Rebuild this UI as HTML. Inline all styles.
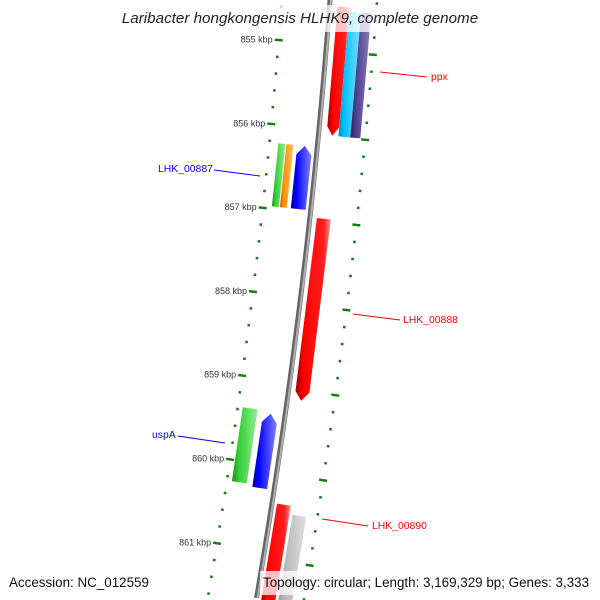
<!DOCTYPE html>
<html><head><meta charset="utf-8">
<style>
html,body{margin:0;padding:0;background:#fff;width:600px;height:600px;overflow:hidden;}
svg{display:block;font-family:"Liberation Sans","DejaVu Sans",sans-serif;overflow:hidden;}
</style></head>
<body>
<svg id="map" width="600" height="600" viewBox="0 0 600 600" xmlns="http://www.w3.org/2000/svg">
<defs>
<clipPath id="frame"><rect x="0" y="0" width="600" height="600"/></clipPath>
<linearGradient id="gRed" x1="0" x2="1" y1="0" y2="0"><stop offset="0" stop-color="#a00000"/><stop offset="0.25" stop-color="#ff0000"/><stop offset="0.8" stop-color="#ff2020"/><stop offset="1" stop-color="#ff9090"/></linearGradient>
<linearGradient id="gCyan" x1="0" x2="1"><stop offset="0" stop-color="#0090c0"/><stop offset="0.25" stop-color="#00bfff"/><stop offset="1" stop-color="#80e0ff"/></linearGradient>
<linearGradient id="gSlate" x1="0" x2="1"><stop offset="0" stop-color="#2a2060"/><stop offset="0.25" stop-color="#483d8b"/><stop offset="1" stop-color="#8a80c0"/></linearGradient>
<linearGradient id="gGreen" x1="0" x2="1"><stop offset="0" stop-color="#1a8a1a"/><stop offset="0.25" stop-color="#32cd32"/><stop offset="1" stop-color="#90ee90"/></linearGradient>
<linearGradient id="gOrange" x1="0" x2="1"><stop offset="0" stop-color="#c06000"/><stop offset="0.25" stop-color="#ff8c00"/><stop offset="1" stop-color="#ffc060"/></linearGradient>
<linearGradient id="gBlue" x1="0" x2="1"><stop offset="0" stop-color="#0000a0"/><stop offset="0.25" stop-color="#0000ff"/><stop offset="1" stop-color="#8080ff"/></linearGradient>
<linearGradient id="gGray" x1="0" x2="1"><stop offset="0" stop-color="#888"/><stop offset="0.25" stop-color="#b4b4b4"/><stop offset="1" stop-color="#e0e0e0"/></linearGradient>
</defs>
<g id="layer" clip-path="url(#frame)"></g>
<g>
  <line x1="380" y1="72" x2="427" y2="77" stroke="#ff0000" stroke-width="1"/>
  <text x="431" y="80" font-size="10.4" fill="#ff0000">ppx</text>
  <line x1="214" y1="170" x2="260" y2="176" stroke="#0000ff" stroke-width="1"/>
  <text x="158" y="172" font-size="10.4" fill="#0000ff">LHK_00887</text>
  <line x1="353" y1="314" x2="400" y2="320" stroke="#ff0000" stroke-width="1"/>
  <text x="403" y="323" font-size="10.4" fill="#ff0000">LHK_00888</text>
  <line x1="178" y1="436" x2="225" y2="443" stroke="#0000ff" stroke-width="1"/>
  <text x="152" y="438" font-size="10.4" fill="#0000ff">uspA</text>
  <line x1="322" y1="519" x2="368" y2="526" stroke="#ff0000" stroke-width="1"/>
  <text x="372" y="529" font-size="10.4" fill="#ff0000">LHK_00890</text>
</g>
<rect x="116" y="5" width="368" height="27" fill="#fff" fill-opacity="0.75"/>
<text x="300" y="23" font-size="15.2" font-style="italic" text-anchor="middle" fill="#222">Laribacter hongkongensis HLHK9, complete genome</text>
<text x="9" y="587" font-size="13.4" fill="#111">Accession: NC_012559</text>
<rect x="260" y="571" width="334" height="24" fill="#fff" fill-opacity="0.75"/>
<text x="263" y="587" font-size="13.4" fill="#111">Topology: circular; Length: 3,169,329 bp; Genes: 3,333</text>
</svg>
<script>
// genome data (kbp)
const majorKbp = [855, 856, 857, 858, 859, 860, 861];
const tickLabels = ["855 kbp","856 kbp","857 kbp","858 kbp","859 kbp","860 kbp","861 kbp"];
const geneNames = ["ppx-a","ppx-b","ppx-c","lhk-00887-a","lhk-00887-b","lhk-00887-c","lhk-00888","uspa-a","uspa-b","lhk-00890-a","lhk-00890-b"];
const geneStart = [854.55, 854.6, 854.6, 856.22, 856.22, 856.22, 857.05, 859.37, 859.4, 860.43, 860.53];
const geneEnd   = [856.07, 856.07, 856.07, 856.97, 856.97, 856.97, 859.2, 860.25, 860.28, 861.7, 861.7];
const geneStrand = [-1, 0, 0, 0, 0, 1, -1, 0, 1, 0, 0]; // -1 head at end, 1 head at start, 0 flat
const geneTrack = [[8,20],[20,32],[32,42],[-39,-32],[-31,-24],[-20,-5],[7,21],[-43,-28],[-22,-7],[5,19],[22,36]];
const geneFill = ["gRed","gCyan","gSlate","gGreen","gOrange","gBlue","gRed","gGreen","gBlue","gRed","gGray"];

const NS = "http://www.w3.org/2000/svg";
const layer = document.getElementById("layer");
function kToPos(k){ return 44 + 84.5*(k-855); }
function bb(p){ return 330 - 0.075*p - 0.00008*p*p; }
function pt(p, off){
  const s = -0.075 - 0.00016*p;
  const n = Math.sqrt(1+s*s);
  return [bb(p) + off/n, p - off*s/n];
}
function mk(tag, attrs){ const e=document.createElementNS(NS,tag); for(const k in attrs) e.setAttribute(k, attrs[k]); return e; }

// backbone
let d="";
for(let p=-10;p<=600;p+=4){ const q=pt(p,0); d+=(p===-10?"M":"L")+q[0].toFixed(2)+","+q[1].toFixed(2); }
const bbDark = mk("path",{d:d,stroke:"#666",fill:"none","stroke-width":"5"});


layer.appendChild(bbDark);
let d2="";
for(let p=-10;p<=600;p+=4){ const q=pt(p,1); d2+=(p===-10?"M":"L")+q[0].toFixed(2)+","+q[1].toFixed(2); }
const bbLight = mk("path",{d:d2,stroke:"#b0b0b0",fill:"none","stroke-width":"2"});


layer.appendChild(bbLight);

// ticks
function tickMark(k, off, major){
  const p = kToPos(k);
  if(major){
    const a=pt(p,off-4), b=pt(p,off+4);
    const l = mk("line",{x1:a[0],y1:a[1],x2:b[0],y2:b[1],stroke:"#138013","stroke-width":"2.5"});
    
    
    layer.appendChild(l);
  } else {
    const a=pt(p,off-1.3), b=pt(p,off+1.3);
    const l = mk("line",{x1:a[0],y1:a[1],x2:b[0],y2:b[1],stroke:"#138013","stroke-width":"2.5"});
    
    
    layer.appendChild(l);
  }
}
for(let i=0;i<=40;i++){
  const k = 854.2 + i*0.2;
  const major = Math.abs(k-Math.round(k))<1e-6;
  tickMark(k, -48, major);
  tickMark(k + 0.08, 47, major);
}
majorKbp.forEach((k,i)=>{
  const q = pt(kToPos(k), -54);
  const t = mk("text",{x:q[0].toFixed(1),y:(q[1]+3).toFixed(1),"font-size":"9","text-anchor":"end",fill:"#333"});
  
  
  t.textContent = tickLabels[i];
  layer.appendChild(t);
});

// genes
geneNames.forEach((nm,i)=>{
  const p0=kToPos(geneStart[i]), p1=kToPos(geneEnd[i]);
  const o0=geneTrack[i][0], o1=geneTrack[i][1], om=(o0+o1)/2;
  const hl=9;
  let pts=[];
  if(geneStrand[i]===-1){
    pts=[pt(p0,o0),pt(p0,o1),pt(p1-hl,o1),pt(p1,om),pt(p1-hl,o0)];
  } else if(geneStrand[i]===1){
    pts=[pt(p0+hl,o0),pt(p0,om),pt(p0+hl,o1),pt(p1,o1),pt(p1,o0)];
  } else {
    pts=[pt(p0,o0),pt(p0,o1),pt(p1,o1),pt(p1,o0)];
  }
  const poly = mk("polygon",{points:pts.map(q=>q[0].toFixed(1)+","+q[1].toFixed(1)).join(" "),fill:"url(#"+geneFill[i]+")"});
  
  
  layer.appendChild(poly);
});
</script>
</body></html>
